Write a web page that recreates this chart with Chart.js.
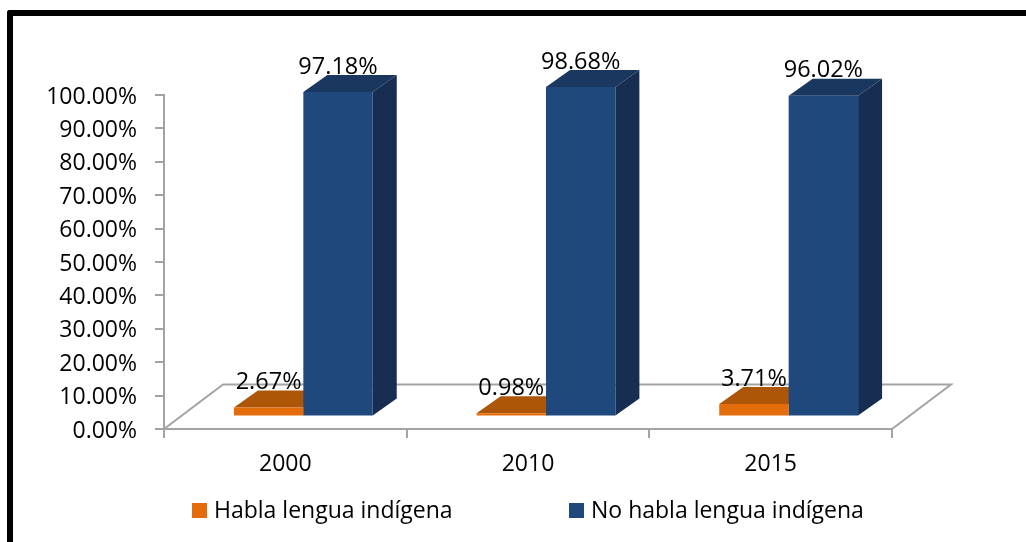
<!DOCTYPE html>
<html>
<head>
<meta charset="utf-8">
<style>
html,body{margin:0;padding:0;background:#fff;overflow:hidden}
#wrap{position:relative;width:1026px;height:542px}
#frame{position:absolute;left:7px;top:10px;width:1030px;height:540px;border-left:6.5px solid #000;border-top:6.5px solid #000;border-top-left-radius:3px;box-sizing:border-box}
canvas{position:absolute;left:0;top:0}
</style>
<script src="https://cdn.jsdelivr.net/npm/chart.js@4"></script>
</head>
<body>
<div id="wrap"><div id="frame"></div><canvas id="c" width="1026" height="542"></canvas></div>
<script>
const categories = ['2000', '2010', '2015'];
const hablaValues = [2.67, 0.98, 3.71];
const noHablaValues = [97.18, 98.68, 96.02];
const seriesNames = ['Habla lengua indígena', 'No habla lengua indígena'];

const FONT = '"Open Sans", sans-serif';
const GRAY = '#a3a3a3';
const shiftX = 18, shiftY = -12.5;   // bar plane offset on the floor
const depthX = 24, depthY = -17;     // bar depth
const floorX = 59, floorY = -44.5;   // floor depth
const faces = [
  {top: '#AE5608', side: '#AE5608'},
  {top: '#1A375F', side: '#172E52'}
];
const legendPos = [{box: 192, text: 214}, {box: 569, text: 591}];

function poly(ctx, pts, fill) {
  ctx.beginPath();
  pts.forEach((p, i) => i ? ctx.lineTo(p[0], p[1]) : ctx.moveTo(p[0], p[1]));
  ctx.closePath();
  ctx.fillStyle = fill;
  ctx.fill();
}

const bar3d = {
  id: 'bar3d',
  beforeDatasetsDraw(chart) {
    const ctx = chart.ctx, a = chart.chartArea;
    ctx.save();
    ctx.strokeStyle = GRAY;
    ctx.lineWidth = 2;
    ctx.beginPath();
    ctx.moveTo(a.left, a.bottom);
    ctx.lineTo(a.left + floorX, a.bottom + floorY);
    ctx.lineTo(a.right + floorX, a.bottom + floorY);
    ctx.lineTo(a.right, a.bottom);
    ctx.stroke();
    chart.data.datasets.forEach((ds, i) => {
      chart.getDatasetMeta(i).data.forEach(el => {
        const l = el.x - el.width / 2 + shiftX, r = el.x + el.width / 2 + shiftX;
        const t = el.y + shiftY, b = el.base + shiftY;
        poly(ctx, [[l, t], [r, t], [r + depthX, t + depthY], [l + depthX, t + depthY]], faces[i].top);
        poly(ctx, [[r, t], [r + depthX, t + depthY], [r + depthX, b + depthY], [r, b]], faces[i].side);
      });
    });
    ctx.restore();
    ctx.save();
    ctx.translate(shiftX, shiftY);
  },
  afterDatasetsDraw(chart) {
    const ctx = chart.ctx;
    ctx.restore();
    ctx.save();
    ctx.font = '23.5px ' + FONT;
    ctx.fillStyle = '#000';
    ctx.textAlign = 'center';
    ctx.textBaseline = 'middle';
    chart.data.datasets.forEach((ds, i) => {
      chart.getDatasetMeta(i).data.forEach((el, j) => {
        ctx.fillText(ds.data[j].toFixed(2) + '%', el.x + shiftX, el.y + shiftY - 25);
      });
    });
    ctx.font = '23px ' + FONT;
    ctx.textAlign = 'left';
    chart.data.datasets.forEach((ds, i) => {
      ctx.fillStyle = ds.backgroundColor;
      ctx.fillRect(legendPos[i].box, 503, 15, 15);
      ctx.fillStyle = '#000';
      ctx.fillText(ds.label, legendPos[i].text, 511);
    });
    ctx.restore();
  }
};

new Chart(document.getElementById('c'), {
  type: 'bar',
  data: {
    labels: categories,
    datasets: [
      {label: seriesNames[0], data: hablaValues, backgroundColor: '#E46C0A', borderWidth: 0},
      {label: seriesNames[1], data: noHablaValues, backgroundColor: '#1F497D', borderWidth: 0}
    ]
  },
  options: {
    responsive: false,
    animation: false,
    layout: {padding: {left: 0, right: 134, top: 95, bottom: 0}},
    plugins: {legend: {display: false}, tooltip: {enabled: false}},
    datasets: {bar: {categoryPercentage: 0.572, barPercentage: 1}},
    scales: {
      x: {
        grid: {drawOnChartArea: false, tickLength: 9, color: GRAY, lineWidth: 2},
        border: {color: GRAY, width: 2},
        ticks: {color: '#000', font: {family: FONT, size: 23}, padding: 13, maxRotation: 0},
        afterFit(s) { s.height = 113; }
      },
      y: {
        min: 0, max: 100,
        grid: {drawOnChartArea: false, tickLength: 9, color: GRAY, lineWidth: 2},
        border: {color: GRAY, width: 2},
        ticks: {
          stepSize: 10,
          color: '#000',
          font: {family: FONT, size: 23},
          padding: 18,
          labelOffset: 2,
          callback: v => v.toFixed(2) + '%'
        },
        afterFit(s) { s.width = 164; }
      }
    }
  },
  plugins: [bar3d]
});
</script>
</body>
</html>
